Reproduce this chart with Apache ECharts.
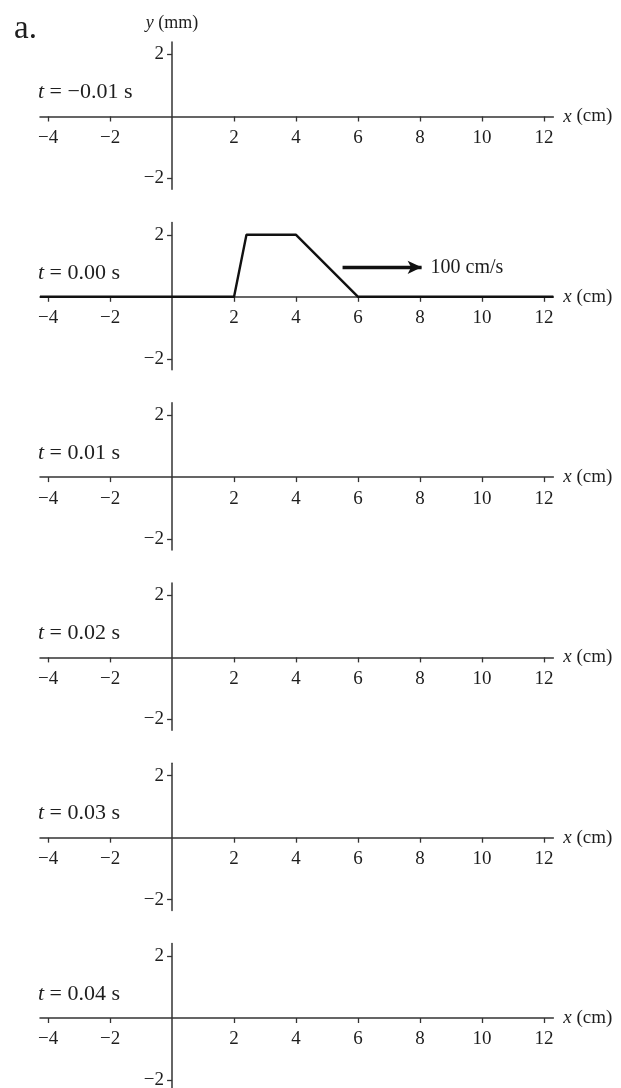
<!DOCTYPE html>
<html>
<head>
<meta charset="utf-8">
<script src="https://cdn.jsdelivr.net/npm/echarts@6/dist/echarts.min.js"></script>
<style>
html,body{margin:0;padding:0;background:#fff;}
#c{width:621px;height:1088px;}
</style>
</head>
<body>
<div id="c"></div>
<script>
// ---- data ----
const timeLabels = ['−0.01', '0.00', '0.01', '0.02', '0.03', '0.04'];
const xTicks = [-4, -2, 2, 4, 6, 8, 10, 12];
const yTicks = [-2, 2];
const xRange = [-4.26, 12.3];
const yRange = [-2.35, 2.4];
// pulse (string shape) drawn at t = 0.00 s
const pulseX = [-4.26, 2, 2.4, 4, 6, 12.3];
const pulseY = [0, 0, 2, 2, 0, 0];
const pulsePanel = 1;
// velocity arrow annotation
const arrowStart = [5.5, 0.95];
const arrowEnd = [8.05, 0.95];
const speedText = '100 cm/s';

// ---- layout ----
const FONT = '"Liberation Serif", "DejaVu Serif", serif';
const INK = '#1e1e1e';
const unit = 31;          // px per unit on both axes
const firstAxisY = 116.5;
const panelStep = 180.3;
const gridLeft = 40;

const fmt = v => String(v).replace('-', '−');

const grids = [], xAxes = [], yAxes = [], series = [], titles = [];
timeLabels.forEach((t, k) => {
  const axisY = firstAxisY + panelStep * k;
  grids.push({
    left: gridLeft,
    width: (xRange[1] - xRange[0]) * unit,
    top: axisY - yRange[1] * unit,
    height: (yRange[1] - yRange[0]) * unit,
    containLabel: false,
    outerBoundsMode: 'none'
  });
  xAxes.push({
    type: 'value', gridIndex: k, min: xRange[0], max: xRange[1],
    position: 'bottom', offset: yRange[0] * unit,
    axisLine: { onZero: false, lineStyle: { color: '#333', width: 1.5 } },
    axisTick: { show: true, length: 5, customValues: xTicks, lineStyle: { color: '#333', width: 1.3 } },
    axisLabel: { customValues: xTicks, formatter: fmt, margin: 12, color: INK, fontFamily: FONT, fontSize: 19 },
    splitLine: { show: false },
    name: '{i|x} (cm)', nameLocation: 'end', nameGap: 10,
    nameTextStyle: { color: INK, fontFamily: FONT, fontSize: 19, rich: { i: { fontStyle: 'italic', fontFamily: FONT, fontSize: 19, color: INK } } }
  });
  yAxes.push({
    type: 'value', gridIndex: k, min: yRange[0], max: yRange[1],
    position: 'left', offset: xRange[0] * unit,
    axisLine: { show: true, onZero: false, lineStyle: { color: '#333', width: 1.5 } },
    axisTick: { show: true, length: 5, customValues: yTicks, lineStyle: { color: '#333', width: 1.3 } },
    axisLabel: { customValues: yTicks, formatter: fmt, margin: 8, color: INK, fontFamily: FONT, fontSize: 19 },
    splitLine: { show: false },
    name: k === 0 ? '{i|y} (mm)' : '', nameLocation: 'end', nameGap: 10,
    nameTextStyle: { color: INK, fontFamily: FONT, fontSize: 18, rich: { i: { fontStyle: 'italic', fontFamily: FONT, fontSize: 18, color: INK } } }
  });
  titles.push({
    text: '{i|t} = ' + t + ' s',
    left: gridLeft - 2, top: axisY - 35, padding: 0,
    textStyle: { color: INK, fontFamily: FONT, fontSize: 22, fontWeight: 'normal',
      rich: { i: { fontStyle: 'italic', fontFamily: FONT, fontSize: 22, color: INK } } }
  });
});

titles.push({
  text: 'a.', left: 14, top: 13, padding: 0,
  textStyle: { color: INK, fontFamily: FONT, fontSize: 33, fontWeight: 'normal' }
});

series.push({
  type: 'line', xAxisIndex: pulsePanel, yAxisIndex: pulsePanel,
  data: pulseX.map((x, i) => [x, pulseY[i]]),
  symbol: 'none', silent: true,
  lineStyle: { color: '#111', width: 2.4 },
  markLine: {
    silent: true, symbol: ['none', 'arrow'], symbolSize: [10, 14],
    lineStyle: { color: '#111', width: 3.4, type: 'solid' },
    label: { show: true, position: 'end', formatter: speedText, distance: 9,
      color: INK, fontFamily: FONT, fontSize: 20 },
    data: [[{ coord: arrowStart }, { coord: arrowEnd }]]
  }
});

const chart = echarts.init(document.getElementById('c'), null, { renderer: 'canvas' });
chart.setOption({
  animation: false,
  backgroundColor: '#fff',
  title: titles,
  grid: grids,
  xAxis: xAxes,
  yAxis: yAxes,
  series: series
});
</script>
</body>
</html>
